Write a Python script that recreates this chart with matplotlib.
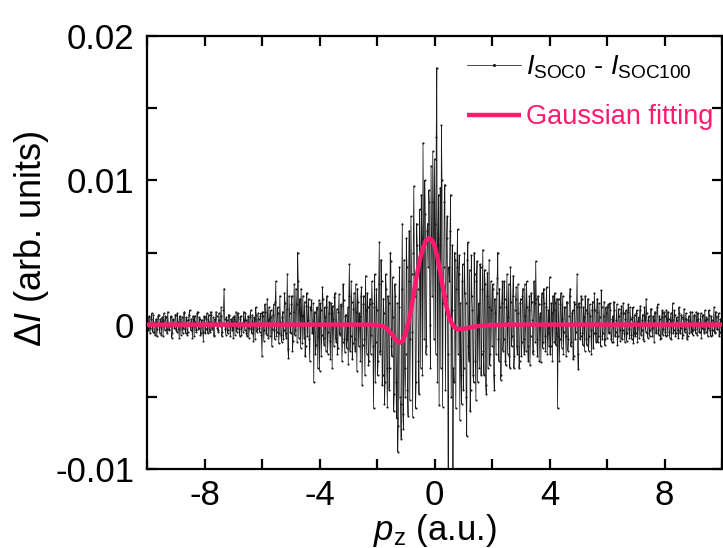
import numpy as np
import matplotlib
matplotlib.use("Agg")
import matplotlib.pyplot as plt
from matplotlib.ticker import MultipleLocator

plt.rcParams['font.family'] = ['Liberation Sans', 'DejaVu Sans']
plt.rcParams['mathtext.fontset'] = 'custom'
plt.rcParams['mathtext.rm'] = 'Liberation Sans'
plt.rcParams['mathtext.it'] = 'Liberation Sans:italic'
plt.rcParams['mathtext.bf'] = 'Liberation Sans:bold'

# ---- data ----
x_start, x_step = -10.0, 0.04
# difference signal at x = -10 + 0.04*i, units of 1e-4 (one row = 1 a.u.)
diff_e4 = [
    3, -4, 6, -2, 8, -5, 1, -7, 4, -3, 7, -6, 2, 5, -8, 0, 6, -3, 9, -4, -1, 5, -6, 3, -2,
    7, -5, 2, -9, 4, 1, -6, 8, -3, 5, -7, 3, 10, -4, 0, 6, -8, 2, -5, 9, -2, 4, -6, 1, -11,
    5, -3, 8, -6, 2, -4, 7, 0, -7, 4, 9, -2, -5, 3, 6, -8, 1, 25, -3, 5, -6, 7, -1, 4, -4,
    -9, 6, 2, -5, 8, -3, 4, -7, 1, 9, -4, 3, -8, 6, -2, 10, -6, 0, 5, -10, 7, -3, 4, -5, 8,
    -22, 6, -4, 9, -7, 3, 12, -8, 5, -3, 14, -10, 30, -5, 8, -6, 2, -12, 9, -4, 15, -9, 35, -23, 8,
    -6, 20, -11, 28, -4, 14, 50, -9, 18, 25, -13, 7, 16, -15, 22, 3, -10, 12, 17, -5, -40, 9, -14, 11, -8,
    -32, 10, -7, 18, -14, 5, 12, -20, 8, -11, 15, -30, 4, 19, -9, 11, -16, 21, -6, 13, -12, 17, -19, 7, -10,
    -27, 42, -8, 16, -13, 22, -18, 9, 25, -15, 6, 20, -42, 14, -10, 34, -20, 12, -25, 18, -7, 15, -58, 35, -12,
    10, -25, 57, -18, 30, -35, 8, -40, 25, -57, 15, -30, 44, -22, 5, -48, 20, -65, -88, 12, -50, -79, 70, -72, -30,
    -20, 40, -63, 65, -10, 35, -64, 96, 20, -40, 55, -25, 80, -30, 60, 126, -10, 77, -15, 70, 93, 0, 110, 20, 85,
    115, -20, 178, 60, -56, 95, 138, -57, 40, 97, 20, 75, -160, 30, 90, 10, -170, -40, 45, 25, 66, 35, -66, -35, 30,
    -45, 50, 15, -77, 57, -25, -60, 48, 10, -40, 35, -52, 44, 5, -30, 40, -20, 52, -35, 28, -48, 36, 12, -28, 30,
    -15, 25, -45, 8, 22, 50, -25, 12, -35, 30, -10, 18, -28, 35, 5, -22, 40, -15, 20, -30, 10, 26, -20, 8, -25,
    18, -12, 25, -20, 6, 30, -15, 10, -28, 22, 3, -18, 15, 44, -10, 20, -25, 8, 14, -16, 25, -8, 12, -20, 10,
    33, -15, 8, 20, -12, 15, -6, -58, 18, -10, 22, 4, -20, 12, -8, 16, -18, 6, 25, -12, 10, -22, 14, -5, 35,
    -31, 12, -8, 18, -14, 5, 20, -10, 8, -18, 14, -4, 10, -16, 22, -6, 9, -12, 15, -8, 24, -10, 6, -14, 12,
    -9, 14, -5, 10, -12, 6, 16, -8, 3, -14, 11, -4, 8, -10, 15, -6, 4, -11, 9, -3, 12, -7, 5, -13, 7,
    -6, 10, 2, -9, 13, -4, 7, -11, 5, 18, -6, 3, -8, 11, -2, 6, -12, 8, -5, 14, -7, 4, -9, 10, -3,
    6, -8, 4, 9, -5, 2, -10, 15, -4, 7, -6, 3, -9, 8, -2, 5, -7, 11, -3, 4, -8, 6, 1, -5, 9,
    -4, 7, -6, 3, 8, -5, 2, -9, 6, -3, 10, -5, 4, -2, 7, -8, 3, -4, 12, -6, 5, -3, 8, -5, 2, -1,
]
# difference signal at the midpoints x = -9.98 + 0.04*i, units of 1e-4
diff_mid_e4 = [
    -2, 5, -6, 4, -3, 7, -5, 2, -8, 6, -1, 4, -7, 3, 8, -4, 5, -6, 1, -3, 6, -9, 4, -2, 7,
    -4, 8, -3, 6, -7, 5, -2, 9, -6, 3, -5, 7, -1, 4, -9, 2, 6, -4, 8, -3, 5, -7, 3, -5, 6,
    -6, 4, -2, 7, -5, 9, -3, 5, -8, 2, 6, -4, 8, -1, 12, -5, 10, 4, -7, 3, -4, 6, -8, 2, 5,
    4, -7, 9, -2, 5, -8, 6, 1, -5, 3, 8, -6, 2, -9, 5, -3, 7, -11, 4, 12, -5, 8, -2, 6, -7,
    9, -11, 14, -6, 18, -9, 4, 10, -15, 7, -4, 16, -8, 12, -13, 20, -7, 5, -10, 22, -6, 11, -17, 20, -5,
    14, -18, 9, -7, 25, -12, 30, 11, -16, 6, 20, -9, -22, 13, -8, 18, -25, 10, -6, 15, 8, -20, 12, -30, 17,
    15, -22, 26, -9, 12, -18, 20, -5, 16, -24, 8, 13, -15, 22, -12, -20, 9, -7, 14, -25, 28, -10, 6, -16, 12,
    20, -18, 30, -24, 11, -10, 28, -32, 16, 8, -25, 26, -14, 20, -35, 10, 22, -28, 14, -20, 30, -15, 12, -40, 25,
    -35, 28, -20, 45, -42, 18, -55, 35, -30, 20, -45, 50, -15, 33, -60, 28, -40, 15, -70, 40, -55, 25, -62, 45, -50,
    60, -45, 30, -52, 75, -5, 50, 35, -58, 70, 25, -48, 45, 90, -35, 55, 100, -20, 65, 40, 85, -30, 60, 120, -10,
    70, 130, -40, 90, 55, -30, 100, 15, 85, -45, 60, -20, 40, 65, -50, 55, -30, 50, -58, 40, -20, 48, 15, -55, 42,
    -30, 22, -50, 45, -15, 38, -45, 20, -35, 50, -25, 30, -40, 15, 42, -35, 25, -18, 38, -42, 20, -30, 45, -20, 10,
    28, -35, 18, -20, 32, -10, 25, -38, 15, -18, 30, -25, 12, -20, 28, -30, 16, -8, 34, -22, 18, -15, 28, -30, 15,
    -22, 20, -10, 28, -18, 12, -25, 20, -8, 16, -20, 30, -12, 18, -22, 14, 5, -26, 22, -12, 15, -18, 26, -6, -15,
    -20, 15, -25, 10, 22, -14, 18, -8, -25, 14, -16, 20, -5, 12, -22, 15, -10, 20, -15, 8, -24, 16, -10, 12, -20,
    15, -10, 20, -6, 12, -18, 10, -14, 18, -8, 6, -20, 16, -6, 10, -12, 18, -8, 5, -15, 12, -6, 16, -10, 8,
    12, -6, 15, -10, 4, -12, 10, -5, 14, -8, 6, -11, 13, -4, 8, -12, 10, -6, 14, -9, 4, -10, 12, -6, -8,
    8, -12, 5, 10, -7, 3, -10, 12, -5, 8, -9, 6, -4, 11, -8, 3, 9, -6, 12, -4, 6, -10, 5, -7, 9,
    -5, 10, -7, 4, -9, 8, 3, -6, 10, -8, 5, -4, 12, -6, 7, -9, 4, -5, 8, -10, 3, -6, 9, -4, -7,
    6, -3, 9, -7, 4, -5, 8, -2, 7, -6, 3, 5, -8, 10, -4, 6, -7, 2, -5, 9, -3, 6, -8, 4, -6,
]

fit_x = [-10.0, -3.0, -2.2, -2.0, -1.8, -1.7, -1.6, -1.5, -1.4, -1.3, -1.2, -1.1, -1.0,
         -0.9, -0.8, -0.7, -0.6, -0.5, -0.4, -0.3, -0.2, -0.1, 0.0, 0.1, 0.2, 0.3,
         0.4, 0.5, 0.6, 0.7, 0.8, 0.9, 1.0, 1.2, 1.5, 2.0, 2.5, 10.0]
fit_y = [0.0, 0.0, 0.0, -0.00003, -0.0001, -0.0002, -0.0004, -0.0006, -0.0009, -0.00115,
         -0.00125, -0.0011, -0.0006, 0.0002, 0.0012, 0.0024, 0.0036, 0.0046, 0.0053,
         0.0058, 0.0060, 0.0059, 0.0055, 0.0047, 0.0036, 0.0025, 0.0014, 0.0006,
         0.0001, -0.0002, -0.0003, -0.0003, -0.0003, -0.0002, -0.0001, -0.00003, 0.0, 0.0]

x_ticks = [-8, -4, 0, 4, 8]
y_ticks = [-0.01, 0, 0.01, 0.02]
y_ticklabels = ['-0.01', '0', '0.01', '0.02']

label_diff = r'$I_{\mathrm{SOC0}}$ - $I_{\mathrm{SOC100}}$'
label_fit = 'Gaussian fitting'

# ---- assemble (interleave grid points and midpoints) ----
d_main = np.array(diff_e4) * 1e-4
d_mid = np.array(diff_mid_e4) * 1e-4
x_main = x_start + x_step * np.arange(len(d_main))
x_mid = x_start + x_step / 2 + x_step * np.arange(len(d_mid))
px = np.concatenate([x_main, x_mid])
py = np.concatenate([d_main, d_mid])
order = np.argsort(px)
px, py = px[order], py[order]

# ---- plot ----
pink = '#ff1a6e'
fig = plt.figure(figsize=(7.23, 5.48), dpi=100)
ax = fig.add_axes([147/723, 1-469/548, 575/723, 433/548])

ax.plot(px, py, color='#1a1a1a', lw=0.55, marker='o', ms=1.5, mew=0,
        label=label_diff, zorder=2)
ax.plot(fit_x, fit_y, color=pink, lw=3.2, label=label_fit, zorder=3,
        solid_capstyle='butt')

ax.set_xlim(-10, 10)
ax.set_ylim(-0.01, 0.02)
ax.set_xticks(x_ticks)
ax.set_xticklabels([str(v) for v in x_ticks])
ax.xaxis.set_minor_locator(MultipleLocator(2))
ax.set_yticks(y_ticks)
ax.set_yticklabels(y_ticklabels)
ax.yaxis.set_minor_locator(MultipleLocator(0.005))

ax.tick_params(which='both', direction='in', top=True, right=True,
               width=1.6, labelsize=25)
ax.tick_params(axis='y', pad=9)
ax.tick_params(axis='x', pad=7)
ax.tick_params(which='major', length=7)
ax.tick_params(which='minor', length=7)
for s in ax.spines.values():
    s.set_linewidth(1.6)

ax.set_xlabel(r'$p_{\mathrm{z}}$ (a.u.)', fontsize=25)
ax.xaxis.set_label_coords(0.5, -0.163)
ax.xaxis.label.set_va('baseline')
ax.set_ylabel(r'Δ$I$ (arb. units)', fontsize=26)
ax.yaxis.set_label_coords(-0.167, 0.531)

leg = ax.legend(loc='upper right', bbox_to_anchor=(1.009, 0.99), frameon=False,
                fontsize=19.5, handlelength=2.0, handletextpad=0.2,
                labelspacing=0.85, borderaxespad=0.1, markerscale=1.5)
leg.get_texts()[1].set_color(pink)

fig.savefig('out.png', dpi=100)
